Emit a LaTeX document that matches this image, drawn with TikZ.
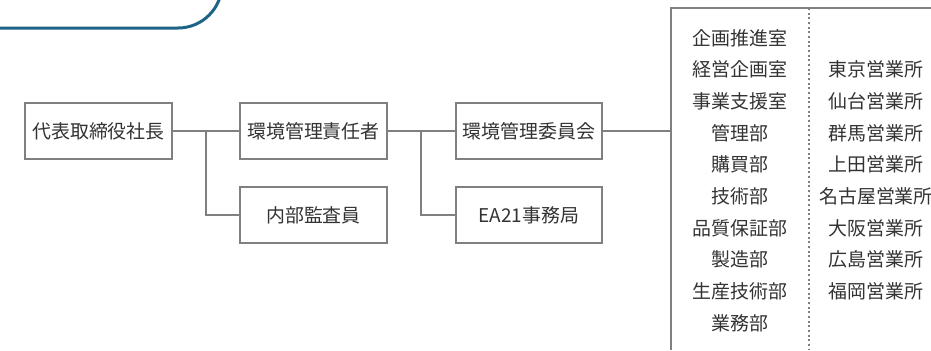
\documentclass[tikz,border=0pt]{standalone}
\usepackage{fontspec}
\setmainfont{Noto Sans CJK JP}
\usepackage{tikz}
\usetikzlibrary{positioning}
\usetikzlibrary{calc}

\definecolor{linegray}{HTML}{808080}
\definecolor{textgray}{HTML}{333333}
\definecolor{capblue}{HTML}{1E6486}

\tikzset{
    orgbox/.style={draw=linegray, line width=1.5pt, fill=white, text=textgray,
        minimum width=110pt, minimum height=42pt, inner sep=0pt},
    conn/.style={draw=linegray, line width=1.5pt},
    deptname/.style={text=textgray, inner sep=0pt}
}

\begin{document}
\begin{tikzpicture}[x=0.75pt, y=-0.75pt, font=\fontsize{14.2}{16}\selectfont]
    \useasboundingbox (0,0) rectangle (931,350);

    % header corner
    \draw[capblue, line width=2.25pt, rounded corners=33pt] (0,28) -| (222,-60);

    % boxes
    \node[orgbox] (ceo) at (98.5,131) {代表取締役社長};
    \node[orgbox] (manager) at (313.5,131) {環境管理責任者};
    \node[orgbox] (auditor) at (313.5,215) {内部監査員};
    \node[orgbox] (committee) at (529,131) {環境管理委員会};
    \node[orgbox] (office) at (529,215) {EA21事務局};

    % connectors
    \draw[conn] (ceo.east) -- (manager.west);
    \draw[conn] ($(ceo.east)!0.5!(manager.west)$) |- (auditor.west);
    \draw[conn] (manager.east) -- (committee.west);
    \draw[conn] ($(manager.east)!0.5!(committee.west)$) |- (office.west);

    % departments frame
    \coordinate (frametop) at (671,8);
    \coordinate (framebot) at (671,350);
    \coordinate (frameend) at (931,8);
    \draw[conn] (framebot) -- (frametop) -- (frameend);
    \draw[conn] (committee.east) -- (committee.east -| frametop);
    \coordinate (septop) at (809,8);
    \coordinate (sepbot) at (809,350);
    \draw[linegray, line width=1.2pt, dash pattern=on 1.5pt off 2pt] (septop) -- (sepbot);

    % departments
    \foreach \dname [count=\i] in {企画推進室,経営企画室,事業支援室,管理部,購買部,技術部,品質保証部,製造部,生産技術部,業務部}
        \node[deptname] (dept\i) at (740,{38+(\i-1)*31.67}) {\dname};

    % sales offices
    \foreach \oname [count=\i] in {東京営業所,仙台営業所,群馬営業所,上田営業所,名古屋営業所,大阪営業所,広島営業所,福岡営業所}
        \node[deptname] (sales\i) at (876,{38+\i*31.67}) {\oname};
\end{tikzpicture}
\end{document}
